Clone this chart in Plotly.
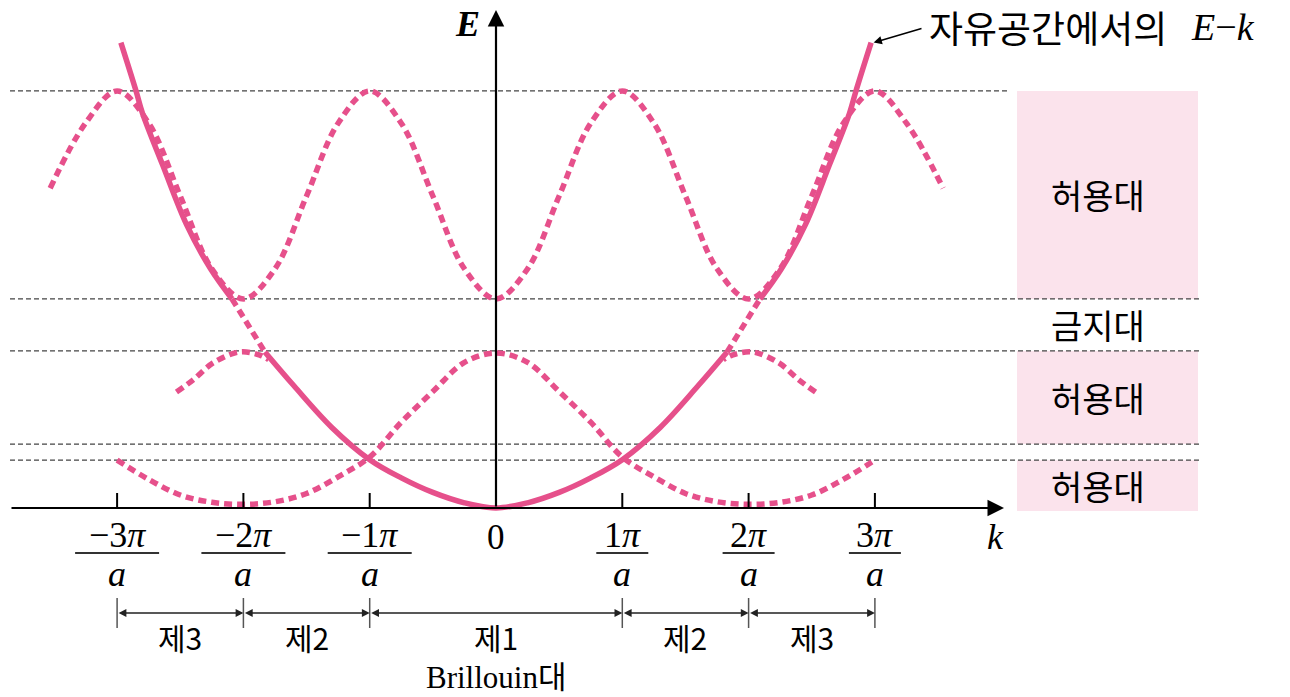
import plotly.graph_objects as go

# ---- data: wave number k in units of pi/a, energy E in arbitrary units ----
# free-electron E-k (right half, mirrored for k < 0)
k_free_half = [0.0, 0.25, 0.5, 0.75, 1.0, 1.3, 1.6, 1.83, 2.09, 2.26, 2.45, 2.64, 2.80, 2.85, 2.97]
E_free_half = [0.0, 0.10, 0.30, 0.58, 0.93, 1.55, 2.35, 3.00, 4.02, 4.60, 5.45, 6.60, 7.60, 8.02, 8.95]

# lowest dashed branch (continuous from k=-3 to k=3)
k_low = [-3.0, -2.75, -2.5, -2.25, -2.0, -1.75, -1.5, -1.25, -1.0, -0.75, -0.5, -0.25, 0.0,
         0.25, 0.5, 0.75, 1.0, 1.25, 1.5, 1.75, 2.0, 2.25, 2.5, 2.75, 3.0]
E_low = [0.92, 0.55, 0.25, 0.11, 0.07, 0.12, 0.28, 0.60, 0.98, 1.65, 2.24, 2.80, 2.98,
         2.80, 2.24, 1.65, 0.98, 0.60, 0.28, 0.12, 0.07, 0.11, 0.25, 0.55, 0.92]

# second-band caps around k = -2 and k = +2
k_mid_left = [-2.53, -2.40, -2.24, -2.03, -1.87, -1.80]
E_mid_left = [2.23, 2.46, 2.79, 3.00, 2.94, 2.85]

# upper dashed band
k_top = [-3.53, -3.25, -3.0, -2.75, -2.5, -2.25, -2.0, -1.75, -1.5, -1.25, -1.0, -0.75, -0.5, -0.25,
         0.0, 0.25, 0.5, 0.75, 1.0, 1.25, 1.5, 1.75, 2.0, 2.25, 2.5, 2.75, 3.0, 3.25, 3.54]
E_top = [6.15, 7.40, 8.02, 7.40, 6.00, 4.60, 4.02, 4.60, 6.00, 7.40, 8.02, 7.40, 6.00, 4.60,
         4.02, 4.60, 6.00, 7.40, 8.02, 7.40, 6.00, 4.60, 4.02, 4.60, 6.00, 7.40, 8.02, 7.40, 6.15]

# band edges (dashed reference levels) and band labels
band_levels = [8.02, 4.02, 3.02, 1.23, 0.92]
band_boxes = [(4.02, 8.02), (1.23, 3.02), (-0.06, 0.92)]
box_labels = ["허용대", "허용대", "허용대"]
gap_label = "금지대"

# k-axis ticks and Brillouin zones
tick_k = [-3, -2, -1, 1, 2, 3]
tick_num = ["−3<i>π</i>", "−2<i>π</i>", "−1<i>π</i>", "1<i>π</i>", "2<i>π</i>", "3<i>π</i>"]
tick_bar_px = [42, 42, 42, 26, 26, 26]
zone_edges = [-3, -2, -1, 1, 2, 3]
zone_names = ["제3", "제2", "제1", "제2", "제3"]

PINK = "#e6508b"
BOXC = "#fbe3ec"
LEVEL = "#444444"
SERIF = "Liberation Serif"
KR = "Noto Sans CJK KR"

# pixel helpers for the page layout
X0, SX = 496.0, 126.3
Y0, SY = 508.0, 52.0
def kx(px):
    return (px - X0) / SX
def ey(py):
    return (Y0 - py) / SY

# full free-electron curve, split into the solid parts and the dashed stretch in the gap
k_free = [-k for k in reversed(k_free_half[1:])] + k_free_half
E_free = list(reversed(E_free_half[1:])) + E_free_half

lo_gap, hi_gap = 3.0, 4.02

def part(sgn, cond):
    kk = [k for k, e in zip(k_free, E_free) if (sgn == 0 or sgn * k > 0) and cond(e)]
    ee = [e for k, e in zip(k_free, E_free) if (sgn == 0 or sgn * k > 0) and cond(e)]
    return kk, ee

fig = go.Figure()

dash_line = dict(color=PINK, width=5.5, dash="8px,5px", shape="spline", smoothing=1.0)
solid_line = dict(color=PINK, width=5.5, shape="spline", smoothing=1.0)

fig.add_trace(go.Scatter(x=k_top, y=E_top, mode="lines", line=dash_line, hoverinfo="skip"))
fig.add_trace(go.Scatter(x=k_low, y=E_low, mode="lines", line=dash_line, hoverinfo="skip"))
fig.add_trace(go.Scatter(x=k_mid_left, y=E_mid_left, mode="lines", line=dash_line, hoverinfo="skip"))
fig.add_trace(go.Scatter(x=[-k for k in k_mid_left], y=E_mid_left, mode="lines", line=dash_line,
                         hoverinfo="skip"))

# dashed parts of the free-electron curve inside the gap
for sgn in (-1, 1):
    kk, ee = part(sgn, lambda e: lo_gap <= e <= hi_gap)
    fig.add_trace(go.Scatter(x=kk, y=ee, mode="lines",
                             line=dict(color=PINK, width=5.5, dash="8px,5px"), hoverinfo="skip"))

# solid parts
kk, ee = part(0, lambda e: e <= lo_gap)
fig.add_trace(go.Scatter(x=kk, y=ee, mode="lines", line=solid_line, hoverinfo="skip"))
for sgn in (-1, 1):
    kk, ee = part(sgn, lambda e: e >= hi_gap)
    fig.add_trace(go.Scatter(x=kk, y=ee, mode="lines", line=solid_line, hoverinfo="skip"))

shapes = []
# band boxes on the right
for lo, hi in band_boxes:
    shapes.append(dict(type="rect", xref="x", yref="y", x0=kx(1017), x1=kx(1198), y0=lo, y1=hi,
                       fillcolor=BOXC, line=dict(width=0), layer="below"))
# dashed band-edge levels
for i, lv in enumerate(band_levels):
    xend = kx(1008) if i == 0 else kx(1200)
    shapes.append(dict(type="line", xref="x", yref="y", x0=kx(10), x1=xend, y0=lv, y1=lv,
                       line=dict(color=LEVEL, width=1.3, dash="5px,3px"), layer="below"))
# tick marks on the k axis
for k in tick_k:
    shapes.append(dict(type="line", xref="x", yref="y", x0=k, x1=k, y0=0, y1=ey(493),
                       line=dict(color="black", width=2)))
# fraction bars under the tick labels
for k, hw in zip(tick_k, tick_bar_px):
    shapes.append(dict(type="line", xref="x", yref="y", x0=k - hw / SX, x1=k + hw / SX,
                       y0=ey(553), y1=ey(553), line=dict(color="#333333", width=2)))
# Brillouin zone boundaries
for k in zone_edges:
    shapes.append(dict(type="line", xref="x", yref="y", x0=k, x1=k, y0=ey(598), y1=ey(628),
                       line=dict(color="#555555", width=1.5)))

ann = []
# axes with arrowheads
ann.append(dict(x=kx(1004), y=0, ax=kx(10), ay=0, xref="x", yref="y", axref="x", ayref="y",
                text="", showarrow=True, arrowhead=2, arrowsize=1.5, arrowwidth=2.2, arrowcolor="black"))
ann.append(dict(x=0, y=ey(10), ax=0, ay=0, xref="x", yref="y", axref="x", ayref="y",
                text="", showarrow=True, arrowhead=2, arrowsize=1.5, arrowwidth=2.2, arrowcolor="black"))
ann.append(dict(x=kx(467), y=ey(24), text="<b><i>E</i></b>", showarrow=False,
                font=dict(family=SERIF, size=36, color="black")))
ann.append(dict(x=kx(995), y=ey(559), yanchor="bottom", text="<i>k</i>", showarrow=False,
                font=dict(family=SERIF, size=36, color="black")))
ann.append(dict(x=0, y=ey(559), yanchor="bottom", text="0", showarrow=False,
                font=dict(family=SERIF, size=35, color="black")))
for k, t in zip(tick_k, tick_num):
    ann.append(dict(x=k, y=ey(557), yanchor="bottom", text=t, showarrow=False,
                    font=dict(family=SERIF, size=36, color="black")))
    ann.append(dict(x=k, y=ey(552), yanchor="top", text="<i>a</i>", showarrow=False,
                    font=dict(family=SERIF, size=36, color="black")))

# double-headed arrows spanning each zone
for a, b, name in zip(zone_edges[:-1], zone_edges[1:], zone_names):
    ann.append(dict(x=b, y=ey(613), ax=a, ay=ey(613), xref="x", yref="y", axref="x", ayref="y",
                    text="", showarrow=True, arrowhead=2, startarrowhead=2, arrowside="end+start",
                    arrowsize=1.2, startarrowsize=1.2, arrowwidth=1.3, arrowcolor="#222222"))
    ann.append(dict(x=(a + b) / 2, y=ey(637), text=name, showarrow=False,
                    font=dict(family=KR, size=30, color="black")))
ann.append(dict(x=0, y=ey(674),
                text="Brillouin<span style=\"font-family:'Noto Sans CJK KR'\">대</span>",
                showarrow=False, font=dict(family=SERIF, size=31, color="black")))

# band labels
for (lo, hi), lab in zip(band_boxes, box_labels):
    ann.append(dict(x=kx(1098), y=(lo + hi) / 2, text=lab, showarrow=False,
                    font=dict(family=KR, size=34, color="black")))
ann.append(dict(x=kx(1098), y=(band_levels[1] + band_levels[2]) / 2, text=gap_label,
                showarrow=False, font=dict(family=KR, size=34, color="black")))

# callout for the free-electron curve
ann.append(dict(x=k_free_half[-1] + 0.02, y=E_free_half[-1], ax=kx(923), ay=ey(28),
                xref="x", yref="y", axref="x", ayref="y", text="", showarrow=True,
                arrowhead=2, arrowsize=1.1, arrowwidth=1.5, arrowcolor="black"))
ann.append(dict(x=kx(927), y=ey(27), xanchor="left", text="자유공간에서의", showarrow=False,
                font=dict(family=KR, size=37, color="black")))
ann.append(dict(x=kx(1189), y=ey(27), xanchor="left",
                text="<i>E</i>−<i>k</i>", showarrow=False,
                font=dict(family=SERIF, size=38, color="black")))

fig.update_layout(
    width=1290, height=697,
    margin=dict(l=0, r=0, t=0, b=0),
    paper_bgcolor="white", plot_bgcolor="white",
    showlegend=False,
    xaxis=dict(range=[kx(0), kx(1290)], visible=False, fixedrange=True),
    yaxis=dict(range=[ey(697), ey(0)], visible=False, fixedrange=True),
    shapes=shapes,
    annotations=ann,
)

fig.write_html("out.html")
